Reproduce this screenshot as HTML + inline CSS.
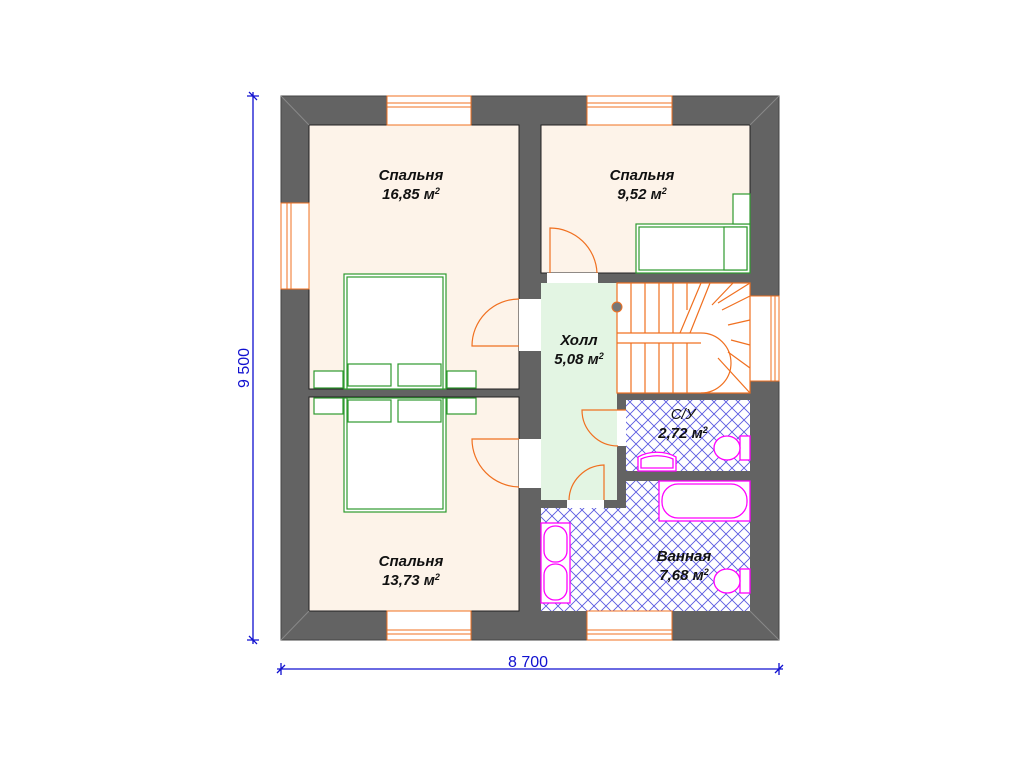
<!DOCTYPE html>
<html><head><meta charset="utf-8"><style>
html,body{margin:0;padding:0;background:#fff;}
svg{display:block;}
text{font-family:"Liberation Sans",sans-serif;font-style:italic;font-weight:bold;font-size:15px;fill:#111;}
</style></head><body>
<svg width="1024" height="768" viewBox="0 0 1024 768" xmlns="http://www.w3.org/2000/svg">
<defs>
<pattern id="h" width="12" height="12" patternUnits="userSpaceOnUse">
<rect width="12" height="12" fill="#fff"/>
<path d="M0,0L12,12M12,0L0,12" stroke="#5a5ae0" stroke-width="0.9"/>
</pattern>
</defs>
<rect x="281" y="96" width="498" height="544" fill="#636363" stroke="#444"/>
<rect x="309" y="125" width="210" height="264" fill="#fdf3e9" stroke="#222"/>
<rect x="309" y="397" width="210" height="214" fill="#fdf3e9" stroke="#222"/>
<rect x="541" y="125" width="209" height="148" fill="#fdf3e9" stroke="#222"/>
<rect x="541" y="283" width="76" height="217" fill="#e3f5e3"/>
<rect x="617" y="283" width="133" height="110" fill="#fff"/>
<rect x="626" y="400" width="124" height="71" fill="url(#h)"/>
<path d="M626,481H750V611H541V508H626Z" fill="url(#h)"/>
<rect x="519" y="299" width="22" height="52" fill="#fff"/>
<rect x="519" y="439" width="22" height="49" fill="#fff"/>
<rect x="547" y="273" width="51" height="10" fill="#fff"/>
<rect x="617" y="410" width="9" height="36" fill="#fff"/>
<rect x="567" y="500" width="37" height="8" fill="#fff"/>
<g fill="#fff" stroke="#f07020" stroke-width="1">
<rect x="387" y="96" width="84" height="29"/><rect x="587" y="96" width="85" height="29"/>
<rect x="387" y="611" width="84" height="29"/><rect x="587" y="611" width="85" height="29"/>
<rect x="281" y="203" width="28" height="86"/><rect x="750" y="296" width="29" height="85"/>
</g>
<g stroke="#f07020" stroke-width="1" fill="none">
<path d="M387,103H471M387,107H471M587,103H672M587,107H672M387,630H471M387,634H471M587,630H672M587,634H672"/>
<path d="M287,203V289M291,203V289M771,296V381M775,296V381"/>
</g>
<g stroke="#888" stroke-width="1">
<path d="M281,96L309,125M779,96L750,125M281,640L309,611M779,640L750,611"/>
</g>
<g stroke="#f07020" stroke-width="1.2" fill="none">
<path d="M519,299A47,47 0 0 0 472,346H519"/>
<path d="M519,439H472A48,48 0 0 0 519,487"/>
<path d="M550,273V228A47,47 0 0 1 597,273"/>
<path d="M626,410H582A36,36 0 0 0 618,446"/>
<path d="M569,500A36,36 0 0 1 604,465V500"/>
</g>
<g stroke="#f07020" stroke-width="1.2" fill="none">
<rect x="617" y="283" width="133" height="110"/>
<path d="M617,333H701"/>
<path d="M617,343H701"/>
<path d="M631,283V333M645,283V333M659,283V333M673,283V333M687,283V310"/>
<path d="M631,343V393M645,343V393M659,343V393M673,343V393M687,343V393"/>
<path d="M701,333A30,30 0 0 1 701,393M701,283L680,333M710,283L690,333"/>
<path d="M750,283L718,303M750,296L722,310M750,320L728,325M750,345L731,340M750,368L728,352M750,393L718,358M733,283L712,305"/>
</g>
<circle cx="617" cy="307" r="5" fill="#777" stroke="#f07020"/>
<g stroke="#2e9a2e" stroke-width="1.2" fill="#fff">
<rect x="344" y="274" width="102" height="115"/>
<rect x="347" y="277" width="96" height="112"/>
<rect x="348" y="364" width="43" height="22"/><rect x="398" y="364" width="43" height="22"/>
<rect x="314" y="371" width="29" height="17"/><rect x="447" y="371" width="29" height="17"/>
<rect x="344" y="398" width="102" height="114"/>
<rect x="347" y="398" width="96" height="111"/>
<rect x="348" y="400" width="43" height="22"/><rect x="398" y="400" width="43" height="22"/>
<rect x="314" y="398" width="29" height="16"/><rect x="447" y="398" width="29" height="16"/>
<rect x="636" y="224" width="114" height="49"/>
<rect x="639" y="227" width="108" height="43"/>
<rect x="724" y="227" width="23" height="43"/>
<rect x="733" y="194" width="17" height="30"/>
</g>
<g stroke="#ff00ff" stroke-width="1.3" fill="#fff">
<rect x="659" y="481" width="91" height="40"/>
<rect x="662" y="484" width="85" height="34" rx="16"/>
<rect x="541" y="523" width="29" height="80"/>
<rect x="544" y="526" width="23" height="36" rx="11"/>
<rect x="544" y="564" width="23" height="36" rx="11"/>
<path d="M638,471V457A28,18 0 0 1 676,457V471Z"/>
<path d="M641,468V459A25,14 0 0 1 673,459V468Z"/>
<rect x="740" y="436" width="10" height="24"/>
<ellipse cx="727" cy="448" rx="13" ry="12"/>
<rect x="740" y="569" width="10" height="24"/>
<ellipse cx="727" cy="581" rx="13" ry="12"/>
</g>
<text x="411" y="180" text-anchor="middle">Спальня</text>
<text x="411" y="199" text-anchor="middle">16,85 м<tspan font-size="9" dy="-5">2</tspan></text>
<text x="642" y="180" text-anchor="middle">Спальня</text>
<text x="642" y="199" text-anchor="middle">9,52 м<tspan font-size="9" dy="-5">2</tspan></text>
<text x="579" y="345" text-anchor="middle">Холл</text>
<text x="579" y="364" text-anchor="middle">5,08 м<tspan font-size="9" dy="-5">2</tspan></text>
<text x="683" y="419" text-anchor="middle" style="font-weight:normal">С/У</text>
<text x="683" y="438" text-anchor="middle">2,72 м<tspan font-size="9" dy="-5">2</tspan></text>
<text x="684" y="561" text-anchor="middle">Ванная</text>
<text x="684" y="580" text-anchor="middle">7,68 м<tspan font-size="9" dy="-5">2</tspan></text>
<text x="411" y="566" text-anchor="middle">Спальня</text>
<text x="411" y="585" text-anchor="middle">13,73 м<tspan font-size="9" dy="-5">2</tspan></text>
<g stroke="#1010d0" stroke-width="1.3">
<path d="M253,92V644M247,96H259M247,640H259M249,92L257,100M249,636L257,644"/>
<path d="M277,669H783M281,663V675M779,663V675M277,673L285,665M775,673L783,665"/>
</g>
<text x="528" y="667" text-anchor="middle" style="font-style:normal;font-weight:normal;font-size:16px;fill:#1010d0">8 700</text>
<text x="0" y="0" text-anchor="middle" transform="translate(249,368) rotate(-90)" style="font-style:normal;font-weight:normal;font-size:16px;fill:#1010d0">9 500</text>
</svg>
</body></html>
